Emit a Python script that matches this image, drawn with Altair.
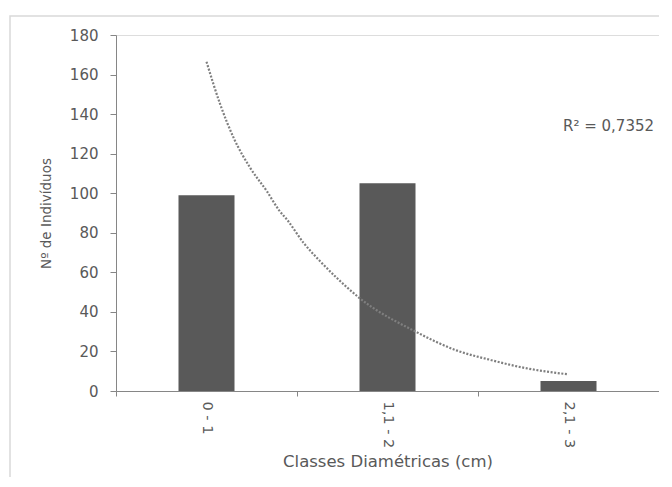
import altair as alt
import pandas as pd

# ---- data ----
categories = ["0 - 1", "1,1 - 2", "2,1 - 3"]
counts = [99, 105, 5]

# points (x = category position 1..3)
trend_x = [1.0, 1.077, 1.151, 1.243, 1.335, 1.40, 1.446, 1.538, 1.63, 1.722, 1.836,
           2.16, 2.385, 2.57, 2.75, 3.0]
trend_y = [166.5, 144.6, 127.8, 112.6, 100.8, 91.5, 86.5, 74.7, 65.4, 57.0, 47.7,
           29.8, 20.4, 15.7, 11.8, 8.4]

r2_label = ["R² = 0,7352"]
y_ticks = [0, 20, 40, 60, 80, 100, 120, 140, 160, 180]

FONT = "DejaVu Sans"
TXT = "#595959"
AX = "#868686"

bars_df = pd.DataFrame({"classe": categories, "n": counts})
trend_df = pd.DataFrame({"x": trend_x, "y": trend_y})
text_df = pd.DataFrame({"t": r2_label})
frame_df = pd.DataFrame({"k": [0]})

y_scale = alt.Scale(domain=[0, 180], nice=False)
y_axis = alt.Axis(
    title="Nº de Indivíduos",
    values=y_ticks,
    grid=False,
    labelOverlap=False,
    labelFontSize=15,
    labelColor=TXT,
    labelPadding=12,
    tickSize=6,
    tickColor=AX,
    domainColor=AX,
    titleFontSize=13.5,
    titleFontWeight="normal",
    titleColor=TXT,
    titlePadding=16,
    labelFont=FONT,
    titleFont=FONT,
)

frame = alt.Chart(frame_df).mark_rect(
    fill="white", fillOpacity=0, stroke="#d9d9d9", strokeWidth=1.5
).encode(
    x=alt.value(-106), x2=alt.value(700), y=alt.value(-19), y2=alt.value(600)
)

bars = alt.Chart(bars_df).mark_bar(color="#595959", width=56).encode(
    x=alt.X(
        "classe:N",
        sort=categories,
        scale=alt.Scale(paddingInner=0, paddingOuter=0),
        axis=alt.Axis(
            title="Classes Diamétricas (cm)",
            labelAngle=90,
            labelFontSize=14.5,
            labelColor=TXT,
            labelPadding=5,
            tickBand="extent",
            tickSize=5,
            tickColor=AX,
            domainColor=AX,
            titleFontSize=16.5,
            titleFontWeight="normal",
            titleColor=TXT,
            titlePadding=6,
            labelFont=FONT,
            titleFont=FONT,
        ),
    ),
    y=alt.Y("n:Q", scale=y_scale, axis=y_axis),
)

trend = alt.Chart(trend_df).mark_line(
    color="#7f7f7f", strokeWidth=2.2, strokeDash=[2, 1.6], interpolate="monotone"
).encode(
    x=alt.X("x:Q", scale=alt.Scale(domain=[0.5, 3.5], nice=False, zero=False), axis=None),
    y=alt.Y("y:Q", scale=y_scale, axis=y_axis),
)

r2 = alt.Chart(text_df).mark_text(
    align="left", baseline="alphabetic", fontSize=15, font=FONT, color=TXT
).encode(
    text="t:N", x=alt.value(447), y=alt.value(96)
)

chart = alt.layer(frame, bars, trend, r2).resolve_scale(x="independent").properties(
    width=543,
    height=356,
    padding={"left": 108, "top": 27, "right": 0, "bottom": 86},
    autosize=alt.AutoSizeParams(type="none"),
).configure_view(strokeWidth=0).configure(font=FONT)

chart.save("out.html", embed_options={"renderer": "svg", "actions": False})
